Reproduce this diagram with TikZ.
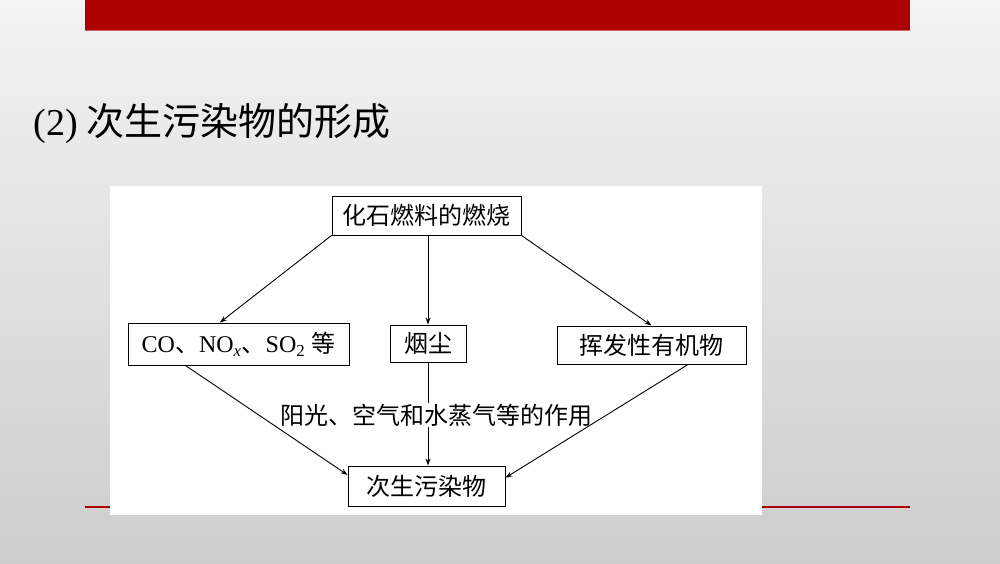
\documentclass[tikz,border=0pt]{standalone}
\usepackage{fontspec}
\setmainfont{Liberation Serif}
\newfontfamily\cjk{Noto Sans CJK SC}
\newfontfamily\lat{Liberation Serif}
\usetikzlibrary{arrows.meta}

\definecolor{barred}{HTML}{AD0000}
\definecolor{bgtop}{HTML}{F3F3F3}
\definecolor{bgbot}{HTML}{CDCDCD}

\begin{document}
\begin{tikzpicture}[x=1pt, y=-1pt,
  >={Stealth[length=7pt, width=5pt]},
  box/.style={draw, line width=0.9pt, inner sep=0pt, font=\cjk\fontsize{24}{24}\selectfont},
  lbl/.style={inner sep=1pt, fill=white, font=\cjk\fontsize{24}{24}\selectfont}]
  % slide background
  \shade[top color=bgtop, bottom color=bgbot] (0,0) rectangle (1000,563);
  \useasboundingbox (0,0) rectangle (1000,563);
  \fill[barred] (85,0) rectangle (910,30);
  \draw[barred!60, line width=0.6pt] (85,30.5) -- (910,30.5);
  \draw[barred, line width=2.5pt] (85,507) -- (910,507);
  \node[anchor=west, font=\cjk\fontsize{38}{38}\selectfont] (title) at (30,124) {{\lat (2)} 次生污染物的形成};
  % diagram panel
  \fill[white] (110,186) rectangle (762,515);
  \node[box, minimum width=189pt, minimum height=39pt] (fuel) at (426.5,215.5) {化石燃料的燃烧};
  \node[box, minimum width=221pt, minimum height=42pt] (gas) at (238.5,344)
    {{\lat CO}、{\lat NO\textsubscript{\itshape x}}、{\lat SO\textsubscript{2} }等};
  \node[box, minimum width=76pt, minimum height=37pt] (dust) at (428,343.5) {烟尘};
  \node[box, minimum width=189pt, minimum height=38pt] (voc) at (651.5,345) {挥发性有机物};
  \node[box, minimum width=157pt, minimum height=40pt] (sec) at (426.5,486) {次生污染物};
  \node[lbl] (cond) at (436,415) {阳光、空气和水蒸气等的作用};
  \path[->, line width=0.9pt]
  (fuel.south west) edge (gas.131)
  (dust.north |- fuel.south) edge (dust)
  (fuel.south east) edge (voc.north)
  (gas.-158) edge (sec.172)
  (voc.-28) edge (sec.6);
  \draw[line width=0.9pt] (dust.south) -- (cond.north -| dust.south);
  \draw[->, line width=0.9pt] (cond.south -| dust.south) -- (dust.south |- sec.north);
\end{tikzpicture}
\end{document}
